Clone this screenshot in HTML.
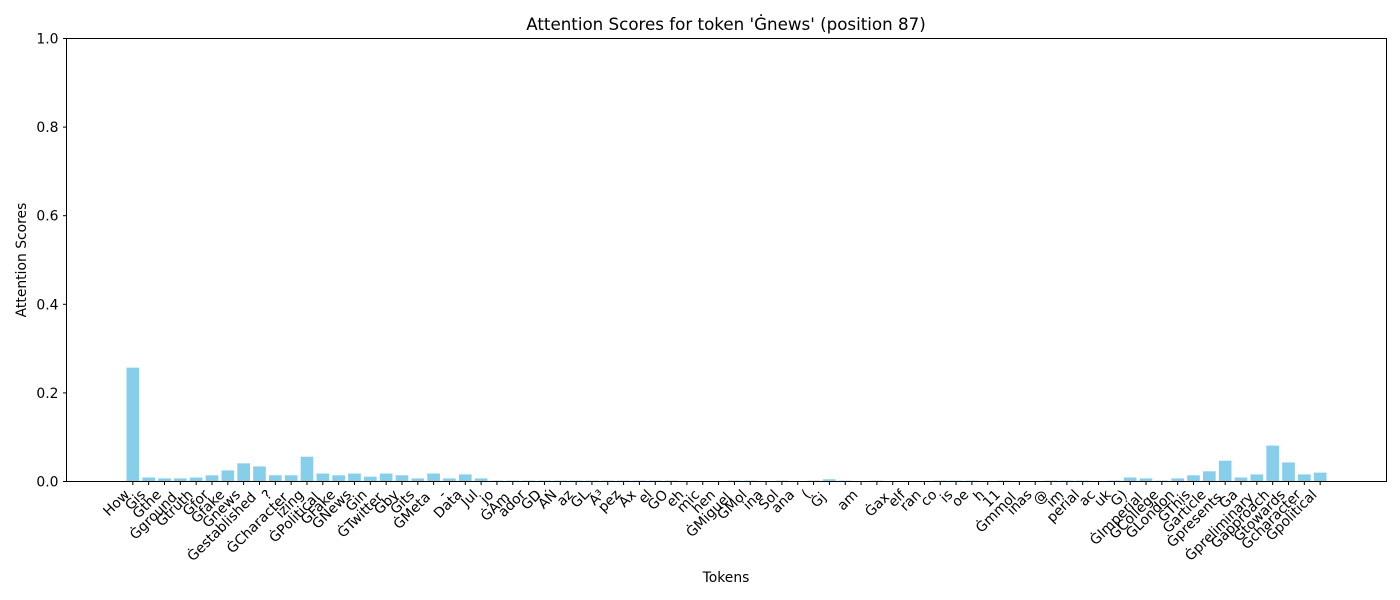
<!DOCTYPE html>
<html><head><meta charset="utf-8"><style>
html,body{margin:0;padding:0;background:#fff;}
svg{display:block;font-family:"DejaVu Sans","Liberation Sans",sans-serif;}
</style></head><body>
<svg id="chart" width="1400" height="600" xmlns="http://www.w3.org/2000/svg">
<rect x="0" y="0" width="1400" height="600" fill="#fff"/>
<text x="726" y="30" font-size="16.7" text-anchor="middle" fill="#000">Attention Scores for token 'Ġnews' (position 87)</text>
<text x="726" y="582" font-size="13.9" text-anchor="middle" fill="#000">Tokens</text>
<text transform="translate(26,260) rotate(-90)" font-size="13.9" text-anchor="middle" fill="#000">Attention Scores</text>
<g id="bars"></g>
<g id="xticks"></g>
<g id="yticks"></g>
<rect x="66.5" y="38.5" width="1320" height="443" fill="none" stroke="#000" stroke-width="1"/>
</svg>
<script>
const tokens = ["How","Gis","Gthe","Ġground","Gtruth","Gfor","Gfake","Gnews","Ġestablished","?","ĠCharacter","izing","ĠPolitical","GFake","GNews","Gin","ĠTwitter","Gby","Gits","ĠMeta","-","Data","Jul","jo","ĠAm","ador","GD","ÃŃ","az","GL","Ã³","pez","Ãx","el","GO","eh","mic","hen","ĠMiguel","GMol","ina","Sol","ana","(","Ġj","","am","","Ġax","elf","ran","co","is","oe","h","11","Ġmmol","inas","@","im","perial","ac","uk","G)","ĠImperial","GCollege","GLondon","GThis","Garticle","Ġpresents","Ga","Ġpreliminary","Gapproach","Gtowards","Gcharacter","Gpolitical"];
const scores = [0.257,0.009,0.007,0.007,0.009,0.014,0.025,0.041,0.034,0.014,0.014,0.056,0.018,0.014,0.018,0.011,0.018,0.014,0.007,0.018,0.007,0.016,0.007,0.002,0.002,0.002,0.002,0.002,0.002,0.002,0.002,0.002,0.002,0.002,0.002,0,0,0,0.002,0.002,0,0.002,0,0.002,0.005,0.002,0,0.002,0,0,0,0.002,0.002,0.002,0,0.002,0,0,0.002,0.002,0.002,0,0.002,0.009,0.007,0.002,0.007,0.014,0.023,0.047,0.009,0.016,0.081,0.043,0.016,0.020];
const yTicks = [0.0,0.2,0.4,0.6,0.8,1.0];
const yTickLabels = ["0.0","0.2","0.4","0.6","0.8","1.0"];

const NS = "http://www.w3.org/2000/svg";
const L = 66.5, R = 1386.5, T = 38.5, B = 481.5;
const n = tokens.length;
const lo = -0.4 - 0.05*(n-1+0.8), hi = (n-1)+0.4 + 0.05*(n-1+0.8);
function xs(i){ return L + (i - lo) / (hi - lo) * (R - L); }
function ys(v){ return B - v * (B - T); }
const bw = 0.8 * (R - L) / (hi - lo);

const gb = document.getElementById('bars');
scores.forEach((v,i)=>{
  const r = document.createElementNS(NS,'rect');
  r.setAttribute('x', xs(i) - bw/2);
  r.setAttribute('y', ys(v));
  r.setAttribute('width', bw);
  r.setAttribute('height', Math.max(0, B - ys(v)));
  r.setAttribute('fill', '#87ceeb');
  
  
  gb.appendChild(r);
});

const gx = document.getElementById('xticks');
tokens.forEach((t,i)=>{
  const x = xs(i);
  const ln = document.createElementNS(NS,'line');
  ln.setAttribute('x1', x); ln.setAttribute('x2', x);
  ln.setAttribute('y1', B); ln.setAttribute('y2', B + 3.5);
  ln.setAttribute('stroke', '#000');
  
  
  gx.appendChild(ln);
  const px = x - 2.5, py = 495.5 + (t.indexOf('Ġ') >= 0 ? 2.5 : 0);
  const tx = document.createElementNS(NS,'text');
  tx.setAttribute('x', px); tx.setAttribute('y', py);
  tx.setAttribute('text-anchor', 'end');
  tx.setAttribute('font-size', '13.9');
  tx.setAttribute('transform', 'rotate(-45 ' + px + ' ' + py + ')');
  tx.textContent = t;
  
  
  gx.appendChild(tx);
});

const gy = document.getElementById('yticks');
yTicks.forEach((v,i)=>{
  const y = ys(v);
  const ln = document.createElementNS(NS,'line');
  ln.setAttribute('x1', L - 3.5); ln.setAttribute('x2', L);
  ln.setAttribute('y1', y); ln.setAttribute('y2', y);
  ln.setAttribute('stroke', '#000');
  
  
  gy.appendChild(ln);
  const tx = document.createElementNS(NS,'text');
  tx.setAttribute('x', L - 8); tx.setAttribute('y', y + 5);
  tx.setAttribute('text-anchor', 'end');
  tx.setAttribute('font-size', '13.9');
  tx.textContent = yTickLabels[i];
  
  
  gy.appendChild(tx);
});
</script>
</body></html>
